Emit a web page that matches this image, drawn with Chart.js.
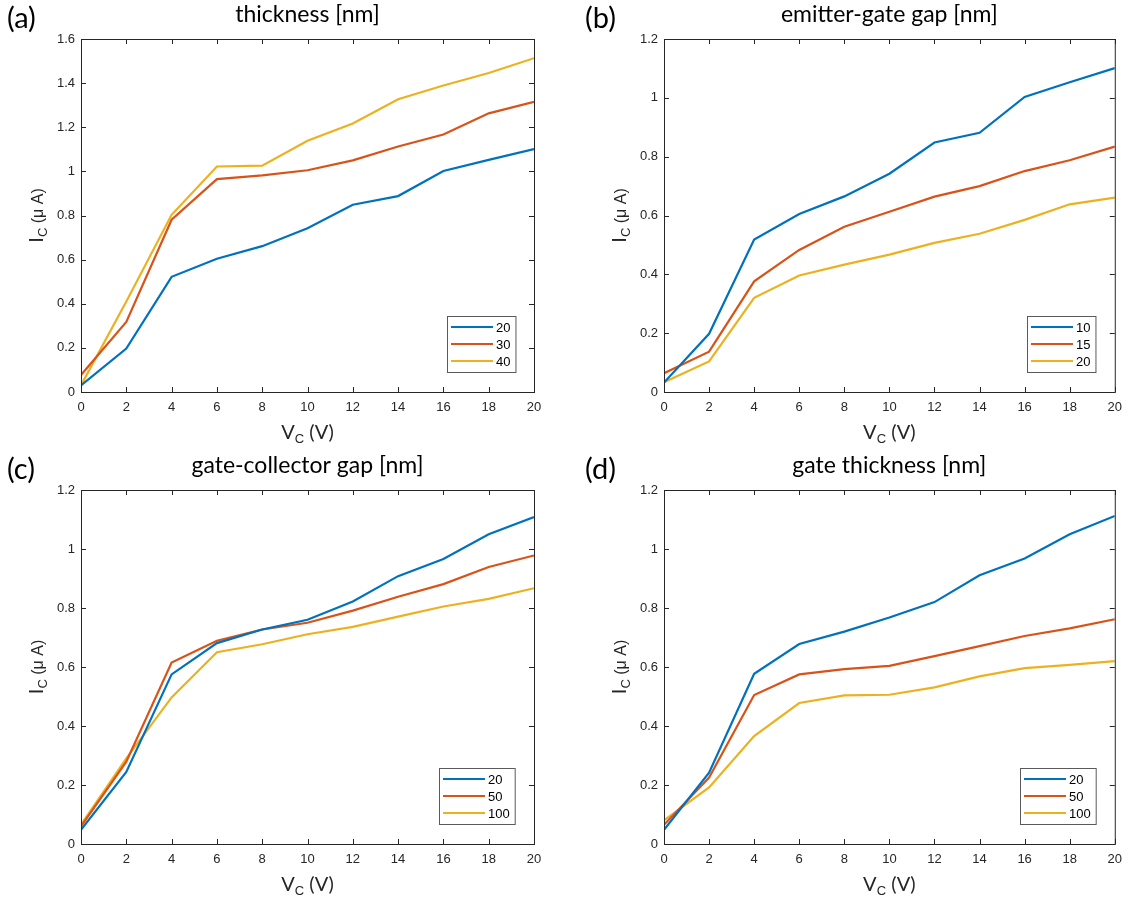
<!DOCTYPE html>
<html>
<head>
<meta charset="utf-8">
<script src="https://cdn.jsdelivr.net/npm/chart.js@4.4.1/dist/chart.umd.min.js"></script>
<style>
  body { margin: 0; background: #fff; }
  #wrap { position: relative; width: 1130px; height: 899px; }
  canvas { position: absolute; }
</style>
</head>
<body>
<div id="wrap">
  <canvas id="panelA" width="565" height="450" style="left:0;top:0"></canvas>
  <canvas id="panelB" width="565" height="450" style="left:565px;top:0"></canvas>
  <canvas id="panelC" width="565" height="449" style="left:0;top:450px"></canvas>
  <canvas id="panelD" width="565" height="449" style="left:565px;top:450px"></canvas>
</div>
<script>
// collector voltage V_C (V)
const vc = [0, 2, 4, 6, 8, 10, 12, 14, 16, 18, 20];
const xTicks = [0, 2, 4, 6, 8, 10, 12, 14, 16, 18, 20];
const yTicksA = [0, 0.2, 0.4, 0.6, 0.8, 1, 1.2, 1.4, 1.6];
const yTicksB = [0, 0.2, 0.4, 0.6, 0.8, 1, 1.2];

// (a) thickness [nm]
const thkLabels = ['20', '30', '40'];
const thk20 = [0.03, 0.197, 0.522, 0.604, 0.661, 0.742, 0.849, 0.888, 1.002, 1.052, 1.101];
const thk30 = [0.077, 0.318, 0.781, 0.965, 0.982, 1.005, 1.05, 1.113, 1.167, 1.263, 1.315];
const thk40 = [0.03, 0.41, 0.803, 1.022, 1.026, 1.139, 1.217, 1.327, 1.389, 1.446, 1.513];

// (b) emitter-gate gap [nm]
const egLabels = ['10', '15', '20'];
const eg10 = [0.032, 0.198, 0.518, 0.605, 0.665, 0.742, 0.848, 0.881, 1.003, 1.053, 1.101];
const eg15 = [0.064, 0.137, 0.376, 0.483, 0.562, 0.613, 0.664, 0.7, 0.751, 0.788, 0.834];
const eg20 = [0.033, 0.104, 0.32, 0.396, 0.433, 0.467, 0.507, 0.538, 0.585, 0.638, 0.661];

// (c) gate-collector gap [nm]
const gcLabels = ['20', '50', '100'];
const gc20 = [0.048, 0.244, 0.575, 0.681, 0.727, 0.76, 0.822, 0.908, 0.966, 1.05, 1.108];
const gc50 = [0.06, 0.279, 0.615, 0.689, 0.727, 0.75, 0.791, 0.838, 0.881, 0.939, 0.978];
const gc100 = [0.065, 0.29, 0.497, 0.65, 0.677, 0.711, 0.736, 0.771, 0.805, 0.831, 0.867];

// (d) gate thickness [nm]
const gtLabels = ['20', '50', '100'];
const gt20 = [0.048, 0.242, 0.577, 0.678, 0.72, 0.768, 0.82, 0.911, 0.968, 1.05, 1.112];
const gt50 = [0.065, 0.225, 0.505, 0.575, 0.593, 0.604, 0.637, 0.671, 0.705, 0.731, 0.762];
const gt100 = [0.08, 0.192, 0.366, 0.478, 0.504, 0.506, 0.531, 0.568, 0.596, 0.607, 0.62];

const colours = ['#0072BD', '#D95319', '#EDB120'];
const axisColour = '#262626';
const tickFont = '"Liberation Sans", Arial, sans-serif';
const textFont = 'Lato, "Open Sans", sans-serif';

// draws the MATLAB-style box, inward ticks, titles, axis labels and legend
const decor = {
    id: 'decor',
    afterDraw(chart, args, opts) {
        const ctx = chart.ctx;
        const a = chart.chartArea;
        const xs = chart.scales.x, ys = chart.scales.y;
        ctx.save();
        ctx.strokeStyle = axisColour;
        ctx.lineWidth = 1;
        ctx.strokeRect(a.left + 0.5, a.top + 0.5, a.right - a.left, a.bottom - a.top);
        ctx.beginPath();
        xs.ticks.forEach(t => {
            const px = Math.round(xs.getPixelForValue(t.value)) + 0.5;
            ctx.moveTo(px, a.bottom); ctx.lineTo(px, a.bottom - 5);
            ctx.moveTo(px, a.top); ctx.lineTo(px, a.top + 5);
        });
        ys.ticks.forEach(t => {
            const py = Math.round(ys.getPixelForValue(t.value)) + 0.5;
            ctx.moveTo(a.left, py); ctx.lineTo(a.left + 5, py);
            ctx.moveTo(a.right, py); ctx.lineTo(a.right - 5, py);
        });
        ctx.stroke();

        const cx = (a.left + a.right) / 2;
        const cy = (a.top + a.bottom) / 2;
        ctx.fillStyle = '#000';
        ctx.textBaseline = 'middle';

        // title
        ctx.textAlign = 'center';
        ctx.font = '23px ' + textFont;
        ctx.fillText(opts.title, cx, a.top - 24);

        // panel letter
        ctx.textAlign = 'left';
        ctx.font = '29px ' + textFont;
        ctx.fillText(opts.letter, opts.letterX, a.top - 20);

        // x label: V_C (V)
        ctx.textBaseline = 'alphabetic';
        const big = '20px ' + textFont, sub = '13px ' + tickFont;
        ctx.font = big; const wV = ctx.measureText('V').width;
        const wRest = ctx.measureText(' (V)').width;
        ctx.font = sub; const wC = ctx.measureText('C').width;
        let x0 = cx - (wV + wC + wRest) / 2;
        const by = a.bottom + 47;
        ctx.fillStyle = axisColour;
        ctx.font = big; ctx.fillText('V', x0, by);
        ctx.font = sub; ctx.fillText('C', x0 + wV, by + 4);
        ctx.font = big; ctx.fillText(' (V)', x0 + wV + wC, by);

        // y label: I_C (mu A)
        ctx.save();
        ctx.translate(a.left - 38, cy);
        ctx.rotate(-Math.PI / 2);
        const mid = '16px ' + tickFont;
        ctx.font = big; const wI = ctx.measureText('I').width;
        ctx.font = mid; const wU = ctx.measureText(' (\u03bc A)').width;
        x0 = -(wI + wC + wU) / 2;
        ctx.font = big; ctx.fillText('I', x0, 0);
        ctx.font = sub; ctx.fillText('C', x0 + wI, 4);
        ctx.font = mid; ctx.fillText(' (\u03bc A)', x0 + wI + wC, 0);
        ctx.restore();

        // legend, bottom right inside the axes
        ctx.font = '13px ' + tickFont;
        const sets = chart.data.datasets;
        const maxW = Math.max(...sets.map(d => ctx.measureText(d.label).width));
        const w = 4 + 42 + 3 + maxW + 5, h = 56;
        const lx = Math.round(a.right - 19 - w), ly = Math.round(a.bottom - 20 - h);
        ctx.fillStyle = '#fff';
        ctx.fillRect(lx, ly, w, h);
        ctx.strokeStyle = '#5a5a5a';
        ctx.strokeRect(lx + 0.5, ly + 0.5, w, h);
        ctx.textBaseline = 'middle';
        sets.forEach((d, i) => {
            const ry = ly + 11 + i * 17;
            ctx.strokeStyle = d.borderColor;
            ctx.lineWidth = 2;
            ctx.beginPath();
            ctx.moveTo(lx + 4, ry); ctx.lineTo(lx + 46, ry);
            ctx.stroke();
            ctx.fillStyle = '#000';
            ctx.fillText(d.label, lx + 49, ry + 1);
        });
        ctx.restore();
    }
};

function createPanel(canvasId, letter, letterX, title, seriesLabels, seriesValues, yTicks, yMax, area) {
    const canvas = document.getElementById(canvasId);
    const datasets = seriesValues.map((vals, i) => ({
        label: seriesLabels[i],
        data: vals.map((v, j) => ({ x: vc[j], y: v })),
        borderColor: colours[i],
        borderWidth: 2.2,
        pointRadius: 0,
        tension: 0,
        fill: false
    }));
    return new Chart(canvas, {
        type: 'line',
        data: { datasets: datasets },
        options: {
            responsive: false,
            animation: false,
            devicePixelRatio: 1,
            layout: { padding: { left: 0, top: area.top, right: canvas.width - area.right, bottom: 0 } },
            plugins: {
                legend: { display: false },
                tooltip: { enabled: false },
                decor: { title: title, letter: letter, letterX: letterX }
            },
            scales: {
                x: {
                    type: 'linear', min: 0, max: 20,
                    grid: { display: false, drawTicks: false },
                    border: { display: false },
                    afterBuildTicks: s => { s.ticks = xTicks.map(v => ({ value: v })); },
                    afterFit: s => { s.height = canvas.height - area.bottom; },
                    ticks: { color: axisColour, font: { family: tickFont, size: 13 }, padding: 8,
                             maxRotation: 0, callback: v => String(v) }
                },
                y: {
                    type: 'linear', min: 0, max: yMax,
                    grid: { display: false, drawTicks: false },
                    border: { display: false },
                    afterBuildTicks: s => { s.ticks = yTicks.map(v => ({ value: v })); },
                    afterFit: s => { s.width = area.left; },
                    ticks: { color: axisColour, font: { family: tickFont, size: 13 }, padding: 6,
                             callback: v => String(v) }
                }
            }
        },
        plugins: [decor]
    });
}

createPanel('panelA', '(a)', 7, 'thickness [nm]', thkLabels, [thk20, thk30, thk40], yTicksA, 1.6,
    { left: 81, top: 39, right: 534, bottom: 392 });
createPanel('panelB', '(b)', 20, 'emitter-gate gap [nm]', egLabels, [eg10, eg15, eg20], yTicksB, 1.2,
    { left: 99, top: 39, right: 554, bottom: 392 });
createPanel('panelC', '(c)', 7, 'gate-collector gap [nm]', gcLabels, [gc20, gc50, gc100], yTicksB, 1.2,
    { left: 81, top: 40, right: 534, bottom: 394 });
createPanel('panelD', '(d)', 20, 'gate thickness [nm]', gtLabels, [gt20, gt50, gt100], yTicksB, 1.2,
    { left: 99, top: 40, right: 554, bottom: 394 });
</script>
</body>
</html>
